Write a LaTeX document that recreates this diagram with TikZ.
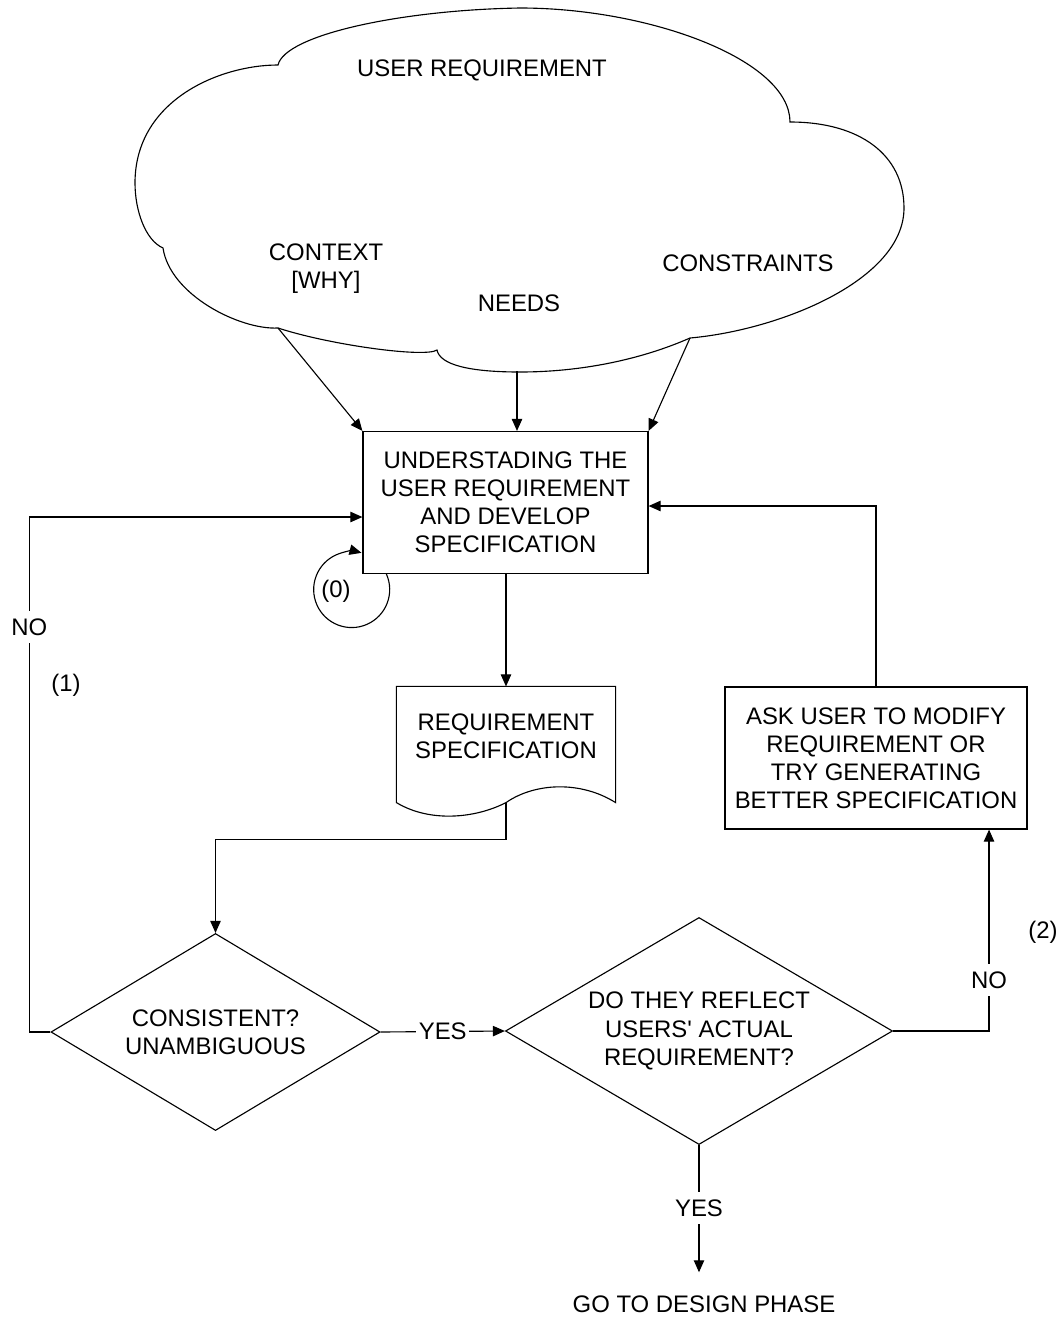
\documentclass[tikz,border=0pt]{standalone}
\usepackage{fontspec}
\setmainfont{Liberation Sans}
\usetikzlibrary{arrows.meta,shapes.geometric}

\begin{document}
\begin{tikzpicture}[x=0.025cm, y=0.025cm, line width=0.8pt,
    >={Triangle[length=0.3cm,width=0.26cm]},
    every node/.style={font=\fontsize{17}{20}\selectfont, align=center},
    procbox/.style={draw, rectangle, minimum width=#1, minimum height=3.55cm, inner sep=0pt},
    docbox/.style={rectangle, minimum width=5.45cm, minimum height=2.875cm, inner sep=0pt},
    decision/.style={draw, diamond, aspect=1.7, inner sep=0pt},
    lbl/.style={fill=white, inner xsep=2pt, inner ysep=5.5pt}]
    \useasboundingbox (0,0) rectangle (1063,-1317);

    % the cloud
    \draw (278,-65) .. controls (285,-35) and (400,-10) .. (520,-8)
      .. controls (650,-8) and (790,-60) .. (790,-122)
      .. controls (860,-122) and (904,-155) .. (904,-208)
      .. controls (904,-280) and (780,-330) .. (690,-338)
      .. controls (640,-360) and (580,-372) .. (520,-372)
      .. controls (470,-372) and (440,-365) .. (437,-350)
      .. controls (425,-358) and (330,-345) .. (278,-328)
      .. controls (240,-330) and (170,-295) .. (163,-248)
      .. controls (145,-240) and (135,-210) .. (135,-183)
      .. controls (135,-100) and (220,-65) .. cycle;

    \node (usrreq) at (482,-70) {USER REQUIREMENT};
    \node (ctx) at (326,-269) {CONTEXT\\{[WHY]}};
    \node (needs) at (519,-303) {NEEDS};
    \node (cons) at (748,-263) {CONSTRAINTS};

    \coordinate (ctxfoot) at (278,-328);
    \coordinate (needfoot) at (517,-371);
    \coordinate (consfoot) at (690,-338);

    \node[procbox=7.125cm] (underst) at (505.5,-502.5)
      {UNDERSTADING THE\\USER REQUIREMENT\\AND DEVELOP\\SPECIFICATION};
    \node[docbox, label={[yshift=0.2125cm]center:REQUIREMENT\\SPECIFICATION}] (reqspec) at (506,-744.5) {};
    \node[procbox=7.55cm] (askuser) at (876,-758)
      {ASK USER TO MODIFY\\REQUIREMENT OR\\TRY GENERATING\\BETTER SPECIFICATION};
    \node[decision, minimum width=8.225cm, minimum height=4.925cm] (consist) at (215.5,-1032)
      {CONSISTENT?\\UNAMBIGUOUS};
    \node[decision, minimum width=9.675cm, minimum height=5.675cm] (reflect) at (699,-1031)
      {DO THEY REFLECT\\USERS\textquotesingle{} ACTUAL\\REQUIREMENT?};
    \node (design) at (704,-1304) {GO TO DESIGN PHASE};

    \node (zero) at (336,-591) {(0)};
    \node (one) at (66,-685) {(1)};
    \node (two) at (1043,-932) {(2)};

    % document outline
    \draw (reqspec.south west) .. controls +(33,-20) and +(-31,-16) .. (reqspec.south)
      .. controls +(29,20) and +(-35,22) .. (reqspec.south east)
      -- (reqspec.north east) -- (reqspec.north west) -- cycle;

    \path[->]
      (ctxfoot) edge (underst.north west)
      (needfoot) edge (needfoot |- underst.north)
      (consfoot) edge (underst.north east)
      (underst.south -| reqspec.north) edge (reqspec.north)
      (consist.east) edge node[lbl]{YES} (reflect.west);

    \draw[->, shorten >=0.45cm] (reflect.south) -- node[lbl, pos=0.434]{YES} (reflect.south |- design.north);
    \draw[->] (reqspec.south) -- ++(0,-37) -| (consist.north);
    \draw[->] (consist.west) -- ++(-21,0) |- node[lbl, pos=0.393]{NO} ([yshift=-0.3625cm]underst.west);
    \draw[->] (reflect.east) -| node[lbl, pos=0.626]{NO} ([xshift=2.825cm]askuser.south);
    \draw[->] (askuser.north) |- ([yshift=-0.0875cm]underst.east);
    \draw[->] ([xshift=0.6cm]underst.south west) arc[start angle=24, end angle=-285, radius=0.95cm];
  \end{tikzpicture}
\end{document}
